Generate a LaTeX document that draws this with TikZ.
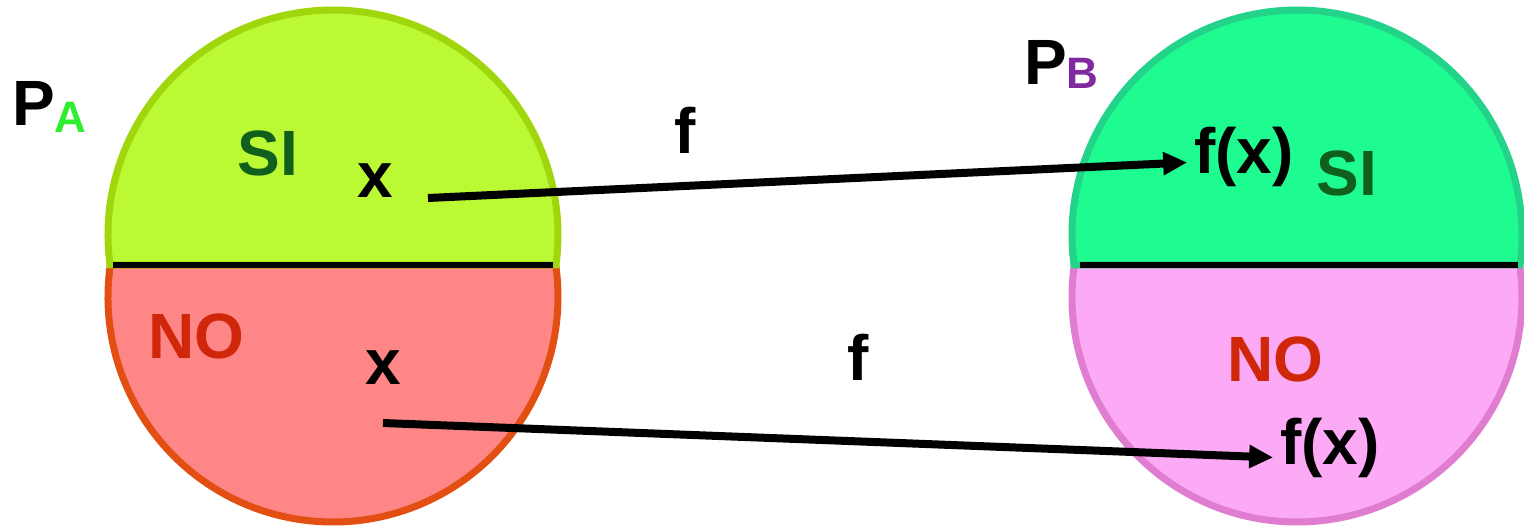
\documentclass[tikz,border=0pt]{standalone}
\usepackage{fontspec}
\setmainfont{Liberation Sans}
\usepackage{tikz}
\usetikzlibrary{arrows.meta, positioning}

\definecolor{siAfill}{HTML}{BCF935}
\definecolor{siAline}{HTML}{A0D60C}
\definecolor{noAfill}{HTML}{FF8686}
\definecolor{noAline}{HTML}{E34F12}
\definecolor{siBfill}{HTML}{1EFB91}
\definecolor{siBline}{HTML}{24D38A}
\definecolor{noBfill}{HTML}{FCAAF5}
\definecolor{noBline}{HTML}{E07DD0}
\definecolor{siText}{HTML}{105F1C}
\definecolor{noText}{HTML}{D0260A}
\definecolor{subA}{HTML}{2EEE2E}
\definecolor{subB}{HTML}{7F2A9F}

\begin{document}
\begin{tikzpicture}[
  x=0.5pt, y=0.5pt,
  every node/.style={font=\fontsize{32}{32}\selectfont\bfseries, anchor=base},
  half/.style={line width=3.5pt},
  divider/.style={line width=3pt, black},
  arrow/.style={-{Triangle[length=12pt,width=11pt]}, line width=4pt}
]
  \useasboundingbox (0,0) rectangle (1524,-525);

  % Set A
  \filldraw[half, fill=noAfill, draw=noAline] (333,-297) ++(171.82:225)
    arc[start angle=171.82, end angle=368.18, radius=225] -- cycle;
  \filldraw[half, fill=siAfill, draw=siAline] (333,-235) ++(187.66:225)
    arc[start angle=187.66, end angle=-7.66, radius=225] -- cycle;
  \draw[divider] (113,-265) -- (553,-265);

  % Set B
  \filldraw[half, fill=noBfill, draw=noBline] (1297,-297) ++(171.82:225)
    arc[start angle=171.82, end angle=368.18, radius=225] -- cycle;
  \filldraw[half, fill=siBfill, draw=siBline] (1297,-235) ++(187.66:225)
    arc[start angle=187.66, end angle=-7.66, radius=225] -- cycle;
  \draw[divider] (1080,-265) -- (1518,-265);

  % Labels
  \node[anchor=base west] (pA) at (5,-125)
    {P\raisebox{-3.5pt}{\fontsize{22}{22}\selectfont\color{subA}A}};
  \node[anchor=base west] (pB) at (1017,-84)
    {P\raisebox{-2pt}{\fontsize{22}{22}\selectfont\color{subB}B}};
  \node[text=siText] (siA) at (268,-175) {SI};
  \node[text=noText] (noA) at (196,-358) {NO};
  \node[text=siText] (siB) at (1347,-195) {SI};
  \node[text=noText] (noB) at (1275,-381) {NO};

  \node (xSi) at (375,-197) {x};
  \node (xNo) at (383,-384) {x};
  \node (fxSi) at (1244,-173) {f(x)};
  \node (fxNo) at (1330,-464) {f(x)};
  \node (fSi) at (685,-153) {f};
  \node (fNo) at (858,-380) {f};

  % Arrows
  \coordinate (startSi) at (428,-198);
  \coordinate (startNo) at (383,-423);
  \draw[arrow] (startSi) -- ([yshift=-3pt]fxSi.west);
  \draw[arrow] (startNo) -- ([yshift=-5pt]fxNo.west);
\end{tikzpicture}
\end{document}
